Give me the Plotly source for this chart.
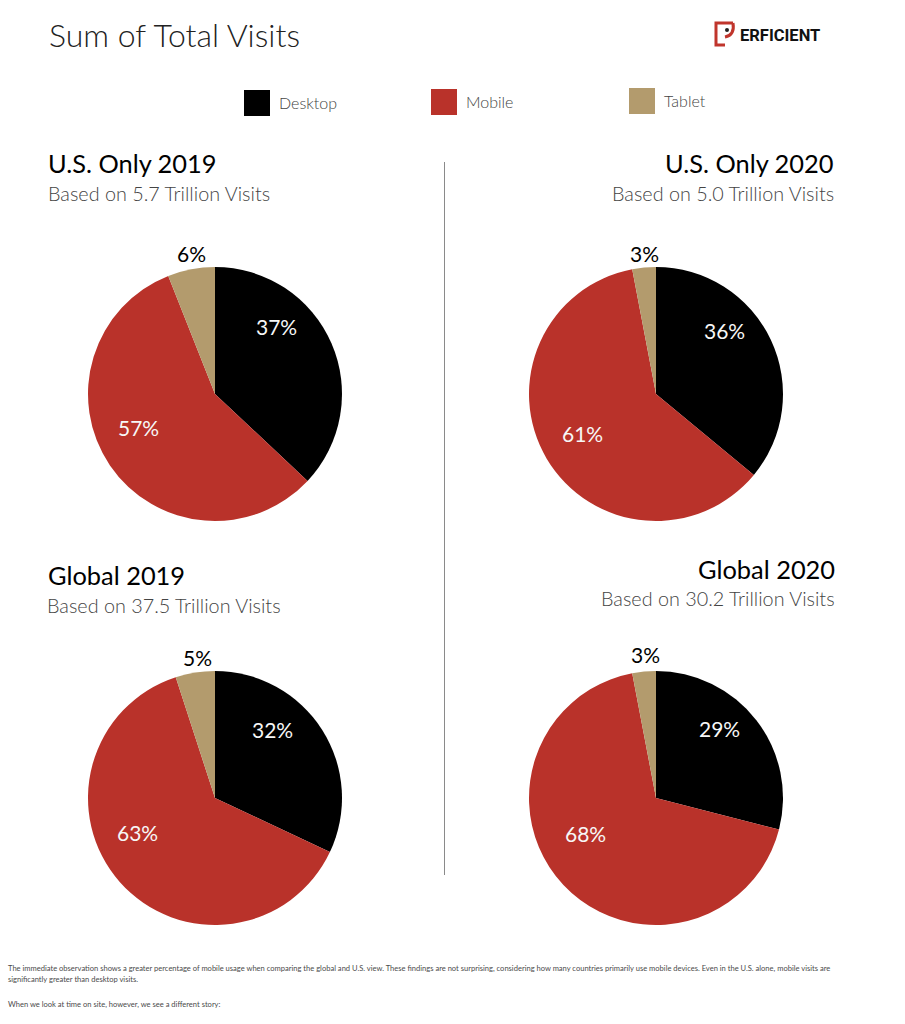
import plotly.graph_objects as go

W, H = 905, 1024

categories = ["Desktop", "Mobile", "Tablet"]
colors = ["#000000", "#b9322a", "#b39b6d"]

us_2019 = [37, 57, 6]
us_2020 = [36, 61, 3]
global_2019 = [32, 63, 5]
global_2020 = [29, 68, 3]

titles = ["U.S. Only 2019", "U.S. Only 2020", "Global 2019", "Global 2020"]
subtitles = [
    "Based on 5.7 Trillion Visits",
    "Based on 5.0 Trillion Visits",
    "Based on 37.5 Trillion Visits",
    "Based on 30.2 Trillion Visits",
]

footer_lines = [
    "The immediate observation shows a greater percentage of mobile usage when comparing the global and U.S. view. These findings are not surprising, considering how many countries primarily use mobile devices. Even in the U.S. alone, mobile visits are",
    "significantly greater than desktop visits.",
    "When we look at time on site, however, we see a different story:",
]


def px(x):
    return x / W


def py(y):
    return 1 - y / H


def text(x, y, s, size, color="#000000", anchor="left", family="Lato", weight=400):
    # annotations carry a little padding, so nudge to land on the page pixel
    nudge = {"left": -2, "center": 0, "right": 2}[anchor]
    return dict(
        x=px(x + nudge), y=py(y - 1), xref="paper", yref="paper", text=s, showarrow=False,
        xanchor=anchor, yanchor="middle", align=anchor,
        font=dict(size=size, color=color, family=family, weight=weight),
    )


fig = go.Figure()
annotations = []
shapes = []

# pie centre x, centre y, radius in page pixels, then label spots per slice
pies = [
    (us_2019, 215, 394, 127, [(276, 327), (138, 428), (191, 254)]),
    (us_2020, 656, 394, 127, [(724, 331), (582, 434), (644, 254)]),
    (global_2019, 215, 798, 127, [(272, 730), (137, 833), (197, 658)]),
    (global_2020, 656, 798, 127, [(719, 729), (585, 834), (645, 655)]),
]

for values, cx, cy, r, spots in pies:
    fig.add_trace(go.Pie(
        labels=categories,
        values=values,
        sort=False,
        direction="clockwise",
        rotation=0,
        marker=dict(colors=colors, line=dict(width=0)),
        textinfo="none",
        showlegend=False,
        domain=dict(x=[px(cx - r), px(cx + r)], y=[py(cy + r), py(cy - r)]),
    ))
    for i, (v, spot) in enumerate(zip(values, spots)):
        col = "#000000" if i == 2 else "#f7f7f7"
        annotations.append(text(spot[0], spot[1], f"{v}%", 21, col, "center"))

# headings
sub_col = "#444444"
annotations.append(text(49, 35, "Sum of Total Visits", 32, "#222222", weight=300))
annotations.append(text(48, 164, titles[0], 25.4))
annotations.append(text(48, 194, subtitles[0], 19.8, sub_col, weight=300))
annotations.append(text(834, 164, titles[1], 25.4, anchor="right"))
annotations.append(text(834, 194, subtitles[1], 19.8, sub_col, "right", weight=300))
annotations.append(text(48, 576, titles[2], 25.4))
annotations.append(text(47, 606, subtitles[2], 19.8, sub_col, weight=300))
annotations.append(text(835, 570, titles[3], 25.4, anchor="right"))
annotations.append(text(835, 599, subtitles[3], 19.8, sub_col, "right", weight=300))

# legend, drawn by hand because of the wide spacing
legend_spots = [(244, 103), (431, 102), (629, 101)]
for name, col, (lx, ly) in zip(categories, colors, legend_spots):
    shapes.append(dict(type="rect", xref="paper", yref="paper", x0=px(lx), x1=px(lx + 26),
                       y0=py(ly + 13), y1=py(ly - 13), fillcolor=col, line=dict(width=0)))
    annotations.append(text(lx + 35, ly, name, 16, "#444444", weight=300))

# divider
shapes.append(dict(type="line", xref="paper", yref="paper", x0=px(444.5), x1=px(444.5),
                   y0=py(875), y1=py(162), line=dict(color="#8a8a8a", width=1)))

# logo
logo_path = "M 733 23 L 716 23 L 716 45 L 725 45 M 733 23 Q 735 35 725 37"
path = logo_path.split(" ")
out = []
i = 0
while i < len(path):
    if path[i].isalpha():
        out.append(path[i])
        i += 1
    else:
        out.append(f"{px(float(path[i])):.5f},{py(float(path[i + 1])):.5f}")
        i += 2
shapes.append(dict(type="path", xref="paper", yref="paper", path=" ".join(out),
                   line=dict(color="#c0352c", width=3)))
shapes.append(dict(type="circle", xref="paper", yref="paper", x0=px(725), x1=px(729),
                   y0=py(32), y1=py(28), fillcolor="#222222", line=dict(width=0)))
annotations.append(text(740, 36, "ERFICIENT", 16.5, "#111111", family="Roboto", weight=700))

# footer
for s, y in zip(footer_lines, [969, 980, 1005]):
    annotations.append(text(8, y, s, 7.55, "#4a4a4a"))

fig.update_layout(
    width=W, height=H,
    margin=dict(l=0, r=0, t=0, b=0),
    paper_bgcolor="white",
    annotations=annotations,
    shapes=shapes,
)

fig.write_html("out.html", config=dict(displayModeBar=False),
               post_script="document.body.style.margin='0';")
